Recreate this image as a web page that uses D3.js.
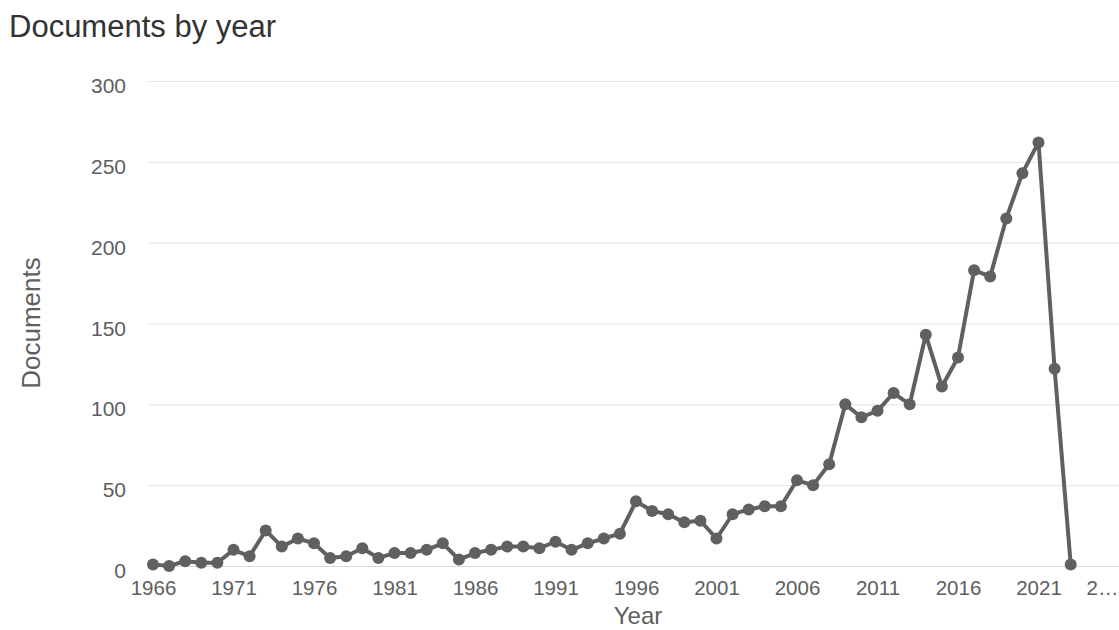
<!DOCTYPE html>
<html>
<head>
<meta charset="utf-8">
<script src="https://cdn.jsdelivr.net/npm/d3@7"></script>
<style>
  html, body { margin: 0; padding: 0; background: #fff; }
  svg { display: block; font-family: "Liberation Sans", Arial, sans-serif; }
</style>
</head>
<body>
<svg id="chart" width="1119" height="630"></svg>
<script>
const years = [1966,1967,1968,1969,1970,1971,1972,1973,1974,1975,1976,1977,1978,1979,1980,1981,1982,1983,1984,1985,1986,1987,1988,1989,1990,1991,1992,1993,1994,1995,1996,1997,1998,1999,2000,2001,2002,2003,2004,2005,2006,2007,2008,2009,2010,2011,2012,2013,2014,2015,2016,2017,2018,2019,2020,2021,2022,2023];
const documents = [1,0,3,2,2,10,6,22,12,17,14,5,6,11,5,8,8,10,14,4,8,10,12,12,11,15,10,14,17,20,40,34,32,27,28,17,32,35,37,37,53,50,63,100,92,96,107,100,143,111,129,183,179,215,243,262,122,1];
const yTicks = [0,50,100,150,200,250,300];
const xTicks = [1966,1971,1976,1981,1986,1991,1996,2001,2006,2011,2016,2021,2026];
const titleText = "Documents by year";
const xTitle = "Year";
const yTitle = "Documents";

const W = 1119, H = 630;
const svg = d3.select("#chart");

const x = d3.scaleLinear().domain([1966, 2026]).range([153, 1119]);
const y = d3.scaleLinear().domain([0, 300]).range([566, 81]);

// title
svg.append("text")
  .attr("x", 9).attr("y", 37)
  .attr("font-size", 31).attr("fill", "#333")
  .text(titleText);

// grid lines
svg.append("g").selectAll("line").data(yTicks).join("line")
  .attr("x1", 148).attr("x2", W)
  .attr("y1", d => y(d) + 0.5).attr("y2", d => y(d) + 0.5)
  .attr("stroke", d => d === 0 ? "#d8d8d8" : "#e3e3e3")
  .attr("stroke-width", 1);

// y axis labels
const yAxis = d3.axisLeft(y).tickValues(yTicks).tickSize(0).tickPadding(0);
const gy = svg.append("g").attr("transform", "translate(126,0)").call(yAxis);
gy.select(".domain").remove();
gy.selectAll("text")
  .attr("font-size", 21).attr("fill", "#5e5e5e")
  .attr("font-family", "Liberation Sans, Arial, sans-serif")
  .attr("dy", "0.55em");

// x axis labels
const xAxis = d3.axisBottom(x).tickValues(xTicks).tickSize(0).tickPadding(0).tickFormat(d3.format("d"));
const gx = svg.append("g").attr("transform", "translate(0,579)").call(xAxis);
gx.select(".domain").remove();
gx.selectAll("text")
  .attr("font-size", 20.5).attr("fill", "#5e5e5e")
  .attr("font-family", "Liberation Sans, Arial, sans-serif")
  .attr("dy", "0.8em");
// overflowing label: justify inside chart and truncate with ellipsis
gx.selectAll(".tick").each(function(d) {
  const t = d3.select(this).select("text");
  const w = this.querySelector("text").getComputedTextLength();
  if (x(d) + w / 2 > W) {
    t.text(String(d).slice(0, 1) + "…").attr("text-anchor", "end")
     .attr("x", W - 1 - x(d));
  }
});

// axis titles
svg.append("text")
  .attr("x", 638).attr("y", 624)
  .attr("text-anchor", "middle")
  .attr("font-size", 24).attr("fill", "#5e5e5e")
  .text(xTitle);

svg.append("text")
  .attr("transform", "translate(40,323) rotate(-90)")
  .attr("text-anchor", "middle")
  .attr("font-size", 26).attr("fill", "#5e5e5e")
  .text(yTitle);

// line
const data = years.map((yr, i) => ({ yr, v: documents[i] }));
const line = d3.line().x(d => x(d.yr)).y(d => y(d.v));
svg.append("path")
  .datum(data)
  .attr("d", line)
  .attr("fill", "none")
  .attr("stroke", "#606060")
  .attr("stroke-width", 4)
  .attr("stroke-linejoin", "round");

svg.append("g").selectAll("circle").data(data).join("circle")
  .attr("cx", d => x(d.yr)).attr("cy", d => y(d.v))
  .attr("r", 6)
  .attr("fill", "#606060");
</script>
</body>
</html>
